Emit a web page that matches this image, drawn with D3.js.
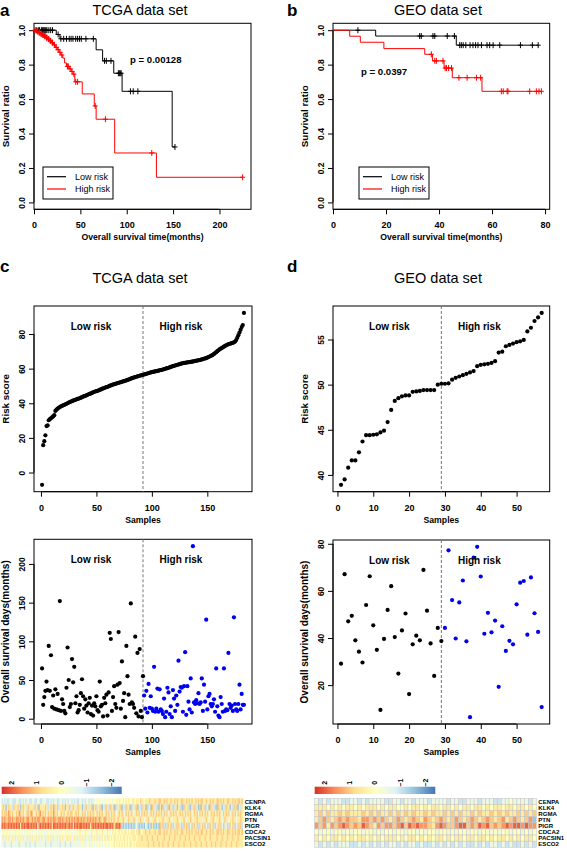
<!DOCTYPE html>
<html><head><meta charset="utf-8">
<script src="https://cdn.jsdelivr.net/npm/d3@7"></script>
<style>body{margin:0;background:#fff;}svg{display:block;}</style>
</head><body>
<script>
// ---------------- DATA ----------------
// Panel a (TCGA) Kaplan-Meier: [time, survival after step]
const kmA_lowSteps = [[24,0.975],[28,0.95],[67,0.886],[74,0.822],[86,0.75],[95,0.645],[149,0.322]];
const kmA_lowCens = [3,5,6,8,9,10,11,12,13,14,16,18,20,26,29,32,35,38,40,42,45,47,49,51,56,64,76,78,83,91,92,93,94,104,107,112,152];
const kmA_highSteps = [[3,0.993],[5,0.986],[7,0.979],[9,0.972],[11,0.965],[13,0.957],[15,0.948],[17,0.938],[19,0.928],[21,0.915],[23,0.9],[25,0.887],[27,0.872],[29,0.856],[31,0.838],[33,0.81],[35,0.79],[38,0.775],[40,0.76],[42,0.745],[44,0.70],[52,0.63],[65,0.56],[67,0.483],[87,0.287],[132,0.146]];
const kmA_highCens = [1,2,3.5,4,5.5,6,7.5,8,9.5,10,11.5,12,13.5,14,15.5,16,17.5,18,19.5,20,22,24,26,28,30,36,37,39,41,43,45,47,66,77,127,225];
// Panel b (GEO)
const kmB_lowSteps = [[16.1,0.966],[46.5,0.913]];
const kmB_lowCens = [9.4,32.7,33.3,37.7,38.4,43.1,45.8,47.8,48.4,49.1,50.1,51.7,52.8,53.8,54.7,56,58.1,59.1,60.4,62.9,70.7,75.2,77.4];
const kmB_highSteps = [[6.3,0.965],[10.3,0.93],[19.2,0.893],[34.6,0.86],[37.5,0.822],[41.9,0.78],[45.0,0.724],[56.2,0.645]];
const kmB_highCens = [37.1,38.4,39,41.5,42.3,42.8,43.6,44.7,47.5,50.6,54.1,55.7,63.5,64.2,65.7,66,74.2,76.7,77.7,78.6];
const pA = "p = 0.00128", pB = "p = 0.0397";

// Panel c: TCGA risk score (sorted) and survival time per sample
const tcgaRisk = [-7.1,15.8,18.1,21.5,26.8,27.2,30.2,30.8,31.3,31.9,32.4,33.1,35.6,36.3,36.9,37.4,37.8,38.2,38.5,38.8,
39.1,39.4,39.7,40.0,40.4,40.7,41.0,41.2,41.5,41.8,42.0,42.3,42.5,42.7,42.9,43.2,43.5,43.8,44.1,44.3,
44.6,44.9,45.2,45.4,45.7,46.0,46.3,46.6,46.8,47.0,47.2,47.4,47.7,48.0,48.3,48.6,48.8,49.1,49.3,49.5,
49.8,50.1,50.3,50.6,50.8,51.0,51.2,51.4,51.6,51.8,52.0,52.2,52.4,52.6,52.8,53.0,53.2,53.5,53.7,53.9,
54.2,54.5,54.7,54.9,55.1,55.3,55.5,55.7,55.9,56.1,56.2,56.4,56.6,56.8,57.0,57.2,57.4,57.6,57.8,58.0,
58.1,58.3,58.4,58.6,58.7,58.9,59.0,59.2,59.3,59.5,59.7,59.9,60.1,60.3,60.5,60.7,61.0,61.2,61.4,61.6,
61.8,62.0,62.2,62.4,62.6,62.8,63.0,63.1,63.3,63.4,63.5,63.6,63.7,63.8,63.9,64.0,64.1,64.3,64.4,64.6,
64.7,64.8,65.0,65.1,65.3,65.5,65.7,65.9,66.1,66.4,66.7,67.0,67.3,67.6,68.0,68.5,69.0,69.5,70.1,70.6,
71.1,71.5,71.9,72.3,72.7,73.1,73.5,73.8,74.1,74.3,74.5,74.7,74.9,75.2,75.6,76.5,77.8,79.3,80.8,82.4,
84.0,85.2,92.2];
const tcgaSurv = [65,18,28,36,48,37,94,36,82,15,30,13,38,12,32,11,152,10,25,19,
10,7,40,92,50,15,19,77,47,67,20,29,8,11,18,33,51,29,13,25,
17,8,20,27,6,17,4,20,16,29,11,9,48,16,18,3,27,20,31,4,
34,111,103,10,28,42,19,14,44,112,46,13,74,23,33,2,94,55,31,19,
149,21,19,14,106,7,85,3,90,10,2,55,
30,13,36,8,45,14,29,13,10,67,9,13,39,9,38,12,10,6,26,2,
9,40,34,6,16,2,37,26,10,30,18,75,35,41,40,9,42,86,5,42,
22,12,52,8,223,21,19,24,20,33,19,21,52,10,44,22,128,12,29,32,
19,16,19,25,9,65,16,4,2,28,19,9,65,10,12,11,85,19,14,17,
10,131,19,12,10,19,44,12,32,18,18];
const tcgaCut = 92;

// Panel d: GEO
const geoRisk = [38.9,39.5,40.8,41.6,41.6,42.5,43.7,44.4,44.4,44.45,44.5,44.7,44.9,45.85,47.2,48.2,48.5,48.7,48.8,48.8,
49.2,49.25,49.3,49.4,49.4,49.4,49.4,50.0,50.1,50.1,50.15,50.55,50.75,50.9,51.05,51.2,51.35,51.5,52.05,52.2,
52.25,52.3,52.4,52.6,53.55,53.65,54.25,54.4,54.55,54.7,54.8,54.95,55.9,56.3,57.05,57.45,57.95];
const geoSurv = [29.1,67.1,47.1,49.4,39.0,34.2,29.6,54.0,66.2,45.4,35.0,9.5,39.6,51.9,62.0,40.4,24.9,43.2,50.4,16.2,
37.3,41.0,39.0,68.9,51.6,37.7,23.9,44.3,38.7,44.3,77.2,56.1,39.8,55.1,64.4,38.6,6.4,74.1,78.7,66.1,
41.8,50.7,42.4,47.4,19.3,45.0,34.5,38.8,37.3,54.3,63.5,64.2,41.4,65.7,50.5,42.6,10.7];
const geoCut = 29;

// Heatmaps: each char is an expression level code 0..8 (4 = 0)
const genes = ["CENPA","KLK4","RGMA","PTN","PIGR","CDCA2","PACSIN1","ESCO2"];
const tcgaHeat = [
"2323223322 2332232323 3223322332 2333223232 3322332323 2332323223 3232332323 3434343434 4344344545 4454545445 5455465545 5565556556 6556565565 5656556655 6565655656 5665565565 6556656565 5665565656 656",
"5651565526 5565156552 6555265615 5556525651 6562556515 5625655265 5152652561 5625261526 5262516252 6152625162 5261526251 6251625261 5162526152 6251526162 5261526251 6152625162 5261625152 6251526261 525",
"6566576563 5657656356 6576536567 5656365657 6563565635 6566356563 5656365656 5365656356 5636565356 5653656365 3565636565 6356563656 5636563565 6563565636 5656356563 6563656356 5636565365 6563565636 565",
"7676677676 6776767667 7667676776 6776676767 7667767667 6767676776 7676676767 6766765676 5656565565 5565356555 6535565535 5653556535 5565355653 5556535565 3556535565 5535565355 6535565356 5535565535 565",
"8787787878 7878587878 8787878278 7878787858 8787878787 7878287878 8787878578 7878787878 8787857878 7212121212 1232121213 2121512121 6262626362 6362636265 6263626362 6362636263 6263626362 3626362636 262",
"4344343434 3443434343 4343443434 3434344343 4343434434 3443434345 4345434354 4354345434 5434545445 4545545455 5455654556 5565556556 6556565565 5656556655 6565655656 5665565565 6556656565 5665565656 656",
"3535353353 5353535335 3535335353 5335353535 3353535335 5353353535 3535335353 5353535453 5545455454 5455454545 5545556555 6555655565 5556555655 5655565556 5565556555 6555655565 5556555655 5655565556 555",
"3323333233 3332333323 3233323333 3332333233 3333233323 3323333333 3433343334 3434343434 4344454545 4545454554 5455555555 5655565556 5565556555 6555655565 5556555655 5655565556 5565556555 6555655565 555"
];
const geoHeat = [
"3232333223 3232333322 3323323332 3333233223 3323332233 4333323",
"5554545455 4545554545 5445455454 5545545455 4554545545 5455454",
"5656556565 5565656556 5656565565 6556565655 6565565656 5565656",
"5676567676 6577676765 6765676576 5676567656 7656765675 6765671",
"7675767876 7687657677 6786878776 5787667886 7687867678 7887877",
"4344344343 4434434344 3443443434 4344343443 4434434344 3443434",
"5454554545 4554545455 5454554545 4554545545 5455454554 5454554",
"3232323332 2323232323 3232332322 3232323232 2323233232 3223232"
];
const legendTicks = [2,1,0,-1,-2];

// ---------------- DRAW ----------------
const FONT = "'Liberation Sans', Arial, Helvetica, sans-serif";
const svg = d3.select("body").append("svg").attr("width",567).attr("height",852)
  .style("font-family",FONT);
svg.append("rect").attr("width",567).attr("height",852).attr("fill","#fff");

function padR(ext){const r=ext[1]-ext[0];return [ext[0]-0.04*r, ext[1]+0.04*r];}

function panel(o){
  const x=d3.scaleLinear().domain(o.xDom).range([o.l,o.r]);
  const y=d3.scaleLinear().domain(o.yDom).range([o.b,o.t]);
  const g=svg.append("g");
  const ax=g.append("g").attr("transform",`translate(0,${o.b})`)
    .call(d3.axisBottom(x).tickValues(o.xTicks).tickSize(5).tickFormat(o.xFmt||d3.format("d")));
  ax.select(".domain").remove();
  ax.attr("font-family",FONT).attr("font-size",9).attr("font-weight","bold");
  ax.selectAll("line").attr("stroke","#000");
  ax.selectAll("text").attr("y",19).attr("dy",0).attr("fill","#000");
  const ay=g.append("g").attr("transform",`translate(${o.l},0)`)
    .call(d3.axisLeft(y).tickValues(o.yTicks).tickSize(5).tickFormat(o.yFmt||d3.format("d")));
  ay.select(".domain").remove();
  ay.attr("font-family",FONT).attr("font-size",8.5).attr("font-weight","bold");
  ay.selectAll("line").attr("stroke","#000");
  ay.selectAll("text").attr("transform","rotate(-90)").attr("x",0).attr("y",-9.5).attr("dy",0)
    .attr("text-anchor","middle").attr("fill","#000");
  g.append("line").attr("x1",x(o.xTicks[0])).attr("x2",x(o.xTicks[o.xTicks.length-1]))
    .attr("y1",o.b).attr("y2",o.b).attr("stroke","#000");
  g.append("line").attr("y1",y(o.yTicks[0])).attr("y2",y(o.yTicks[o.yTicks.length-1]))
    .attr("x1",o.l).attr("x2",o.l).attr("stroke","#000");
  g.append("rect").attr("x",o.l).attr("y",o.t).attr("width",o.r-o.l).attr("height",o.b-o.t)
    .attr("fill","none").attr("stroke","#000").attr("stroke-width",1);
  g.append("text").attr("x",(o.l+o.r)/2).attr("y",o.b+31).attr("text-anchor","middle")
    .attr("font-size",8.7).attr("font-weight","bold").text(o.xLabel);
  g.append("text").attr("transform",`translate(${o.l-25.5},${(o.t+o.b)/2}) rotate(-90)`)
    .attr("text-anchor","middle").attr("font-size",o.yLabelFs||9.8).attr("font-weight","bold").text(o.yLabel);
  return {x,y,g};
}

function title(txt, cx, cy){
  svg.append("text").attr("x",cx).attr("y",cy).attr("text-anchor","middle")
    .attr("font-size",14.5).text(txt);
}
function letter(txt, x, y){
  svg.append("text").attr("x",x).attr("y",y).attr("font-size",17).attr("font-weight","bold").text(txt);
}

function survAt(steps,t){let s=1;steps.forEach(d=>{if(d[0]<=t)s=d[1];});return s;}
function drawKM(P, steps, cens, color){
  const end=Math.max(d3.max(cens), d3.max(steps,d=>d[0]));
  const pts=[[0,1]]; let s=1;
  steps.forEach(d=>{pts.push([d[0],s]);pts.push([d[0],d[1]]);s=d[1];});
  pts.push([end,s]);
  P.g.append("path").datum(pts).attr("fill","none").attr("stroke",color).attr("stroke-width",1)
    .attr("d",d3.line().x(d=>P.x(d[0])).y(d=>P.y(d[1])));
  P.g.append("g").selectAll("path").data(cens).join("path")
    .attr("d",t=>{const cx=P.x(t), cy=P.y(survAt(steps,t));
      return `M${cx-2.5},${cy}H${cx+2.5}M${cx},${cy-3}V${cy+3}`;})
    .attr("stroke",color).attr("stroke-width",1).attr("fill","none");
}
function kmLegend(P, x0, y0){
  P.g.append("rect").attr("x",x0).attr("y",y0).attr("width",70).attr("height",32)
    .attr("fill","#fff").attr("stroke","#000");
  [["Low risk","#000"],["High risk","#ff0000"]].forEach((d,i)=>{
    const yy=y0+9.7+i*12.3;
    P.g.append("line").attr("x1",x0+4).attr("x2",x0+23).attr("y1",yy).attr("y2",yy)
      .attr("stroke",d[1]).attr("stroke-width",1.2);
    P.g.append("text").attr("x",x0+32).attr("y",yy+3.3).attr("font-size",9).text(d[0]);
  });
}

// ---- Panel a ----
letter("a",0,16); title("TCGA data set",140,15);
const maxA=d3.max([...kmA_lowCens,...kmA_highCens]);
const PA=panel({l:34,r:251,t:23.3,b:209.3,xDom:[0,maxA*1.04],yDom:[-0.04,1.04],
  xTicks:[0,50,100,150,200],yTicks:[0,0.2,0.4,0.6,0.8,1.0],yFmt:d3.format(".1f"),
  xLabel:"Overall survival time(months)",yLabel:"Survival ratio"});
drawKM(PA,kmA_lowSteps,kmA_lowCens,"#000");
drawKM(PA,kmA_highSteps,kmA_highCens,"#ff0000");
kmLegend(PA,43,167);
PA.g.append("text").attr("x",130).attr("y",62.5).attr("font-size",9.6).attr("font-weight","bold").text(pA);

// ---- Panel b ----
letter("b",287,16); title("GEO data set",438,15);
const maxB=d3.max([...kmB_lowCens,...kmB_highCens]);
const PB=panel({l:333,r:549.7,t:23.3,b:209.3,xDom:[0,maxB*1.04],yDom:[-0.04,1.04],
  xTicks:[0,20,40,60,80],yTicks:[0,0.2,0.4,0.6,0.8,1.0],yFmt:d3.format(".1f"),
  xLabel:"Overall survival time(months)",yLabel:"Survival ratio"});
drawKM(PB,kmB_lowSteps,kmB_lowCens,"#000");
drawKM(PB,kmB_highSteps,kmB_highCens,"#ff0000");
kmLegend(PB,359,167);
PB.g.append("text").attr("x",361).attr("y",75).attr("font-size",9.6).attr("font-weight","bold").text(pB);

// ---- scatter panels ----
function scatter(o, vals, cut, colorHigh){
  const n=vals.length;
  const P=panel(Object.assign({xDom:padR([1,n]),yDom:padR(d3.extent(vals))},o));
  P.g.append("line").attr("x1",P.x(cut)).attr("x2",P.x(cut)).attr("y1",o.t).attr("y2",o.b)
    .attr("stroke","#777").attr("stroke-width",1).attr("stroke-dasharray","3,2");
  P.g.append("g").selectAll("circle").data(vals).join("circle")
    .attr("cx",(d,i)=>P.x(i+1)).attr("cy",d=>P.y(d)).attr("r",2.1)
    .attr("fill",(d,i)=>(i+1)>cut?colorHigh:"#000");
  const yl=o.t+24;
  P.g.append("text").attr("x",(o.l+o.r)/2-52).attr("y",yl).attr("text-anchor","middle")
    .attr("font-size",10).attr("font-weight","bold").text("Low risk");
  P.g.append("text").attr("x",(o.l+o.r)/2+38).attr("y",yl).attr("text-anchor","middle")
    .attr("font-size",10).attr("font-weight","bold").text("High risk");
  return P;
}

letter("c",0,272); title("TCGA data set",140,283);
scatter({l:34,r:252,t:306,b:491.7,xTicks:[0,50,100,150],yTicks:[0,20,40,60,80],
  xLabel:"Samples",yLabel:"Risk score"}, tcgaRisk, tcgaCut, "#000");
scatter({l:34,r:252,t:539.3,b:724,xTicks:[0,50,100,150],yTicks:[0,50,100,150,200],
  xLabel:"Samples",yLabel:"Overall survival days(months)",yLabelFs:10}, tcgaSurv, tcgaCut, "#0000ee");

letter("d",287,272); title("GEO data set",438,283);
scatter({l:333,r:549.7,t:306,b:491.7,xTicks:[0,10,20,30,40,50],yTicks:[40,45,50,55],
  xLabel:"Samples",yLabel:"Risk score"}, geoRisk, geoCut, "#000");
scatter({l:333,r:549.7,t:540,b:724,xTicks:[0,10,20,30,40,50],yTicks:[20,40,60,80],
  xLabel:"Samples",yLabel:"Overall survival days(months)",yLabelFs:10}, geoSurv, geoCut, "#0000ee");

// ---- heatmaps ----
const colDom=[-2.4,-1.6,-0.8,0,0.8,1.6,2.4];
const colRange=["#4575B4","#91BFDB","#E0F3F8","#FFFFBF","#FEE090","#FC8D59","#D73027"];
const color=d3.scaleLinear().domain(colDom).range(colRange);
const code2val=c=>(+c-4)*0.5;

const defs=svg.append("defs");
const grad=defs.append("linearGradient").attr("id","cbar").attr("x1","0%").attr("x2","100%");
colDom.slice().reverse().forEach((v,i)=>grad.append("stop")
  .attr("offset",(i/(colDom.length-1)*100)+"%").attr("stop-color",color(v)));

function heatmap(rows, x0, x1, y0, y1, cb0, cb1, border){
  const data=rows.map(s=>s.replace(/ /g,""));
  const n=data[0].length;
  const xb=d3.scaleBand().domain(d3.range(n)).range([x0,x1]);
  const yb=d3.scaleBand().domain(genes).range([y0,y1]);
  const g=svg.append("g");
  data.forEach((s,r)=>{
    g.append("g").selectAll("rect").data(s.split("")).join("rect")
      .attr("x",(d,i)=>xb(i)).attr("y",yb(genes[r]))
      .attr("width",xb.bandwidth()+(border?0:0.4)).attr("height",yb.bandwidth()+(border?0:0.2))
      .attr("fill",d=>color(code2val(d)))
      .attr("stroke",border?"#c4c4c4":"none").attr("stroke-width",border?0.5:0);
  });
  g.selectAll("text.gene").data(genes).join("text").attr("class","gene")
    .attr("x",x1+2).attr("y",d=>yb(d)+yb.bandwidth()/2+2.2)
    .attr("font-size",6.1).attr("font-weight","bold").text(d=>d);
  const cx=d3.scaleLinear().domain([2.4,-2.4]).range([cb0,cb1]);
  g.append("rect").attr("x",cb0).attr("y",786.7).attr("width",cb1-cb0).attr("height",7.3)
    .attr("fill","url(#cbar)");
  g.selectAll("text.key").data(legendTicks).join("text").attr("class","key")
    .attr("transform",d=>`translate(${cx(d)},782.7) rotate(-90)`)
    .attr("text-anchor","middle").attr("dy","0.35em").attr("font-size",7).attr("font-weight","bold")
    .text(d=>d3.format("d")(d));
}
heatmap(tcgaHeat,1.5,242.7,798.3,847.3,1.7,121.7,false);
heatmap(geoHeat,314.7,536.3,798.3,847.3,314.7,435.3,true);
</script>
</body></html>
